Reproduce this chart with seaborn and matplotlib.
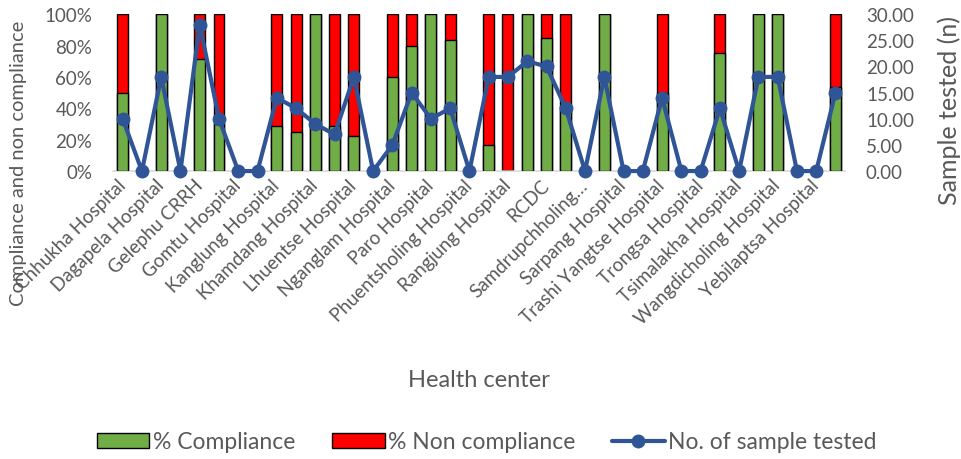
import numpy as np
import pandas as pd
import matplotlib
matplotlib.use("Agg")
import matplotlib.pyplot as plt
import seaborn as sns
from matplotlib.patches import Patch
from matplotlib.lines import Line2D
from matplotlib.ticker import FuncFormatter

# Health centres (alphabetical), every second one is labelled on the axis
centers = [
    "Chhukha Hospital", "Dagana Hospital", "Dagapela Hospital", "Deothang Hospital",
    "Gelephu CRRH", "Gidakom Hospital", "Gomtu Hospital", "Jakar Hospital",
    "Kanglung Hospital", "Khaling Hospital", "Khamdang Hospital", "Lhamoizingkha Hospital",
    "Lhuentse Hospital", "Mongar Hospital", "Nganglam Hospital", "Panbang Hospital",
    "Paro Hospital", "Pemagatshel Hospital", "Phuentsholing Hospital", "Punakha Hospital",
    "Rangjung Hospital", "RBP Hospital", "RCDC", "Riserboo Hospital",
    "Samdrupchholing Hospital", "Samtse Hospital", "Sarpang Hospital", "Thimphu Hospital",
    "Trashi Yangtse Hospital", "Trashigang Hospital", "Trongsa Hospital", "Tsenkharla Hospital",
    "Tsimalakha Hospital", "Tsirang Hospital", "Wangdicholing Hospital", "Wangdue Hospital",
    "Yebilaptsa Hospital", "Zhemgang Hospital",
]

tick_labels = [
    "Chhukha Hospital", "Dagapela Hospital", "Gelephu CRRH", "Gomtu Hospital",
    "Kanglung Hospital", "Khamdang Hospital", "Lhuentse Hospital", "Nganglam Hospital",
    "Paro Hospital", "Phuentsholing Hospital", "Rangjung Hospital", "RCDC",
    "Samdrupchholing…", "Sarpang Hospital", "Trashi Yangtse Hospital", "Trongsa Hospital",
    "Tsimalakha Hospital", "Wangdicholing Hospital", "Yebilaptsa Hospital",
]

nan = np.nan
# % compliance (no value where no sample was tested)
compliance = [
    50, nan, 100, nan, 71.4, 30, nan, nan, 28.6, 25, 100, 28.6, 22.2, nan, 60, 80,
    100, 83.3, nan, 16.7, 0, 100, 85, 41.7, nan, 100, nan, nan, 50, nan, nan, 75,
    nan, 100, 100, nan, nan, 53.3,
]
non_compliance = [
    50, nan, 0, nan, 28.6, 70, nan, nan, 71.4, 75, 0, 71.4, 77.8, nan, 40, 20,
    0, 16.7, nan, 83.3, 100, 0, 15, 58.3, nan, 0, nan, nan, 50, nan, nan, 25,
    nan, 0, 0, nan, nan, 46.7,
]
samples = [
    10, 0, 18, 0, 28, 10, 0, 0, 14, 12, 9, 7, 18, 0, 5, 15, 10, 12, 0, 18,
    18, 21, 20, 12, 0, 18, 0, 0, 14, 0, 0, 12, 0, 18, 18, 0, 0, 15,
]

GREEN = "#70AD47"
RED = "#FF0000"
BLUE = "#2F5597"
TEXT = "#595959"

sns.set_theme(style="white")
plt.rcParams["font.family"] = ["Lato", "DejaVu Sans"]

df = pd.DataFrame({
    "center": centers,
    "compliance": compliance,
    "non_compliance": non_compliance,
    "samples": samples,
})
df["total"] = df["compliance"] + df["non_compliance"]

fig = plt.figure(figsize=(9.62, 4.6), dpi=100)
ax = fig.add_axes([0.1175, 0.626, 0.761, 0.341])

# stacked bars: full bar in red, compliant share in green over it
sns.barplot(data=df, x="center", y="total", order=centers, color=RED,
            saturation=1, edgecolor="black", linewidth=1, width=0.57,
            errorbar=None, ax=ax, zorder=2)
sns.barplot(data=df, x="center", y="compliance", order=centers, color=GREEN,
            saturation=1, edgecolor="black", linewidth=1, width=0.57,
            errorbar=None, ax=ax, zorder=3)

n = len(centers)
ax2 = ax.twinx()
sns.lineplot(x=np.arange(n), y=df["samples"], ax=ax2, color=BLUE, lw=3,
             marker="o", markersize=10, markeredgewidth=0, sort=False,
             clip_on=False, zorder=5)
ax.set_xlim(-0.5, n - 0.5)

ax.set_ylim(0, 100)
ax.set_yticks(np.arange(0, 101, 20))
ax.yaxis.set_major_formatter(FuncFormatter(lambda v, p: f"{v:.0f}%"))
ax2.set_ylim(0, 30)
ax2.set_yticks(np.arange(0, 31, 5))
ax2.yaxis.set_major_formatter(FuncFormatter(lambda v, p: f"{v:.2f}"))

ax.set_xticks(np.arange(0, n, 2))
ax.set_xticklabels(tick_labels, rotation=45, ha="right", va="center",
                   rotation_mode="anchor")

for a in (ax, ax2):
    for s in a.spines.values():
        s.set_visible(False)
    a.tick_params(length=0, labelsize=13.5, colors=TEXT)
    a.grid(False)
ax.spines["bottom"].set_visible(True)
ax.spines["bottom"].set_color("#D9D9D9")
ax.spines["bottom"].set_linewidth(1.2)
ax.tick_params(axis="y", pad=15)
ax.tick_params(axis="x", pad=8, labelsize=13.5)
ax2.tick_params(axis="y", pad=15)

ax.set_xlabel("Health center", fontsize=17, color=TEXT)
ax.xaxis.set_label_coords(0.5, -1.26)
ax.set_ylabel("Compliance and non compliance", fontsize=14.5, color=TEXT)
ax.yaxis.set_label_coords(-0.117, 0.057)
ax2.set_ylabel("Sample tested (n)", fontsize=18, color=TEXT, rotation=90)
ax2.yaxis.set_label_coords(1.126, 0.39)

handles = [
    Patch(facecolor=GREEN, edgecolor="black", linewidth=1),
    Patch(facecolor=RED, edgecolor="black", linewidth=1),
    Line2D([0], [0], color=BLUE, lw=3, marker="o", markersize=10, markeredgewidth=0),
]
fig.legend(handles, ["% Compliance", "% Non compliance", "No. of sample tested"],
           loc="center", bbox_to_anchor=(0.506, 1 - 443 / 460), ncol=3,
           frameon=False, fontsize=16.5, handlelength=2.3, handleheight=0.6,
           handletextpad=0.15, columnspacing=1.6, labelcolor=TEXT)

fig.savefig("out.png", dpi=100)
